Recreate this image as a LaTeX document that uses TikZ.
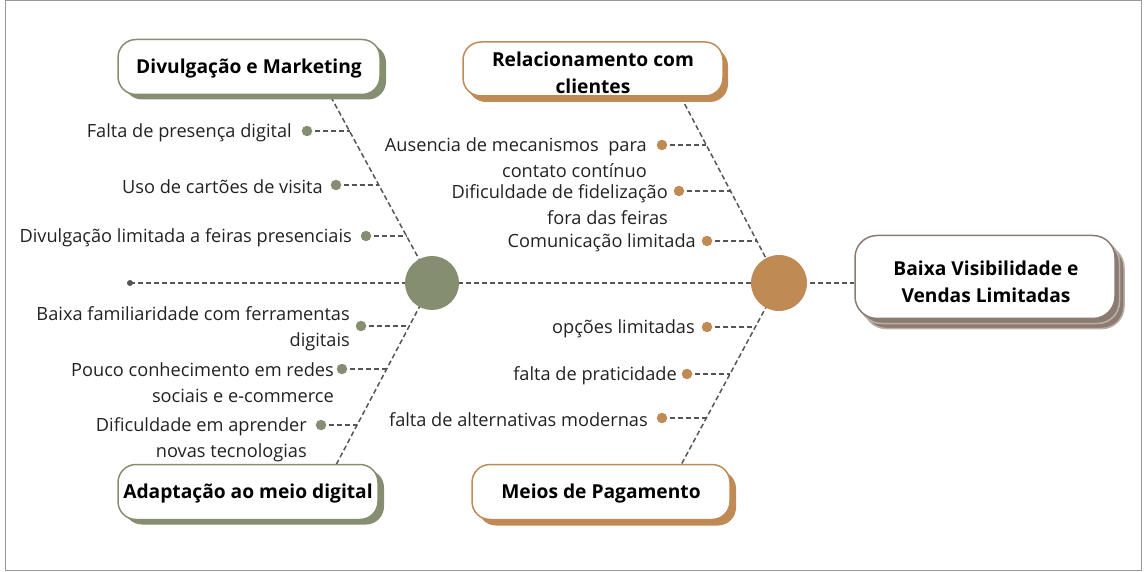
\documentclass[tikz,border=0pt]{standalone}
\usepackage{fontspec}
\setmainfont{Open Sans}
\usetikzlibrary{shadows,backgrounds}
\definecolor{sage}{HTML}{868E72}
\definecolor{ochre}{HTML}{C08A55}
\definecolor{taupe}{HTML}{8C7B70}
\definecolor{dashc}{HTML}{555555}
\definecolor{txt}{HTML}{222222}
\tikzset{
  bone/.style={draw=dashc, line width=1.5pt, dash pattern=on 5pt off 3pt},
  cause/.style={anchor=east, align=right, inner sep=0pt, text=txt, yshift=-1.5pt, font=\fontsize{18.2}{25.5}\selectfont},
  cdot/.style={circle, inner sep=0pt, minimum size=10.5pt},
  titlebox/.style={rounded corners=18pt, fill=white, line width=1.5pt, minimum height=55pt},
  titletext/.style={align=center, text=black, inner sep=0pt, font=\bfseries\fontsize{19.2}{26.5}\selectfont},
}
\begin{document}
\begin{tikzpicture}[x=1pt,y=-1pt]
\useasboundingbox (0,0) rectangle (1144,572);
\draw[draw=gray!80, line width=1pt] (5,1) rectangle (1141,570);

% title boxes
\node[titlebox, draw=sage, minimum width=262pt, drop shadow={shadow xshift=6pt, shadow yshift=-5pt, fill=sage, opacity=1}] (dm) at (249,67) {};
\node[titletext] (dmt) at (249,68.5) {Divulgação e Marketing};
\node[titlebox, draw=ochre, minimum width=260pt, minimum height=54pt, drop shadow={shadow xshift=5pt, shadow yshift=-6pt, fill=ochre, opacity=1}] (rc) at (593,69) {};
\node[titletext] (rct) at (593,73) {Relacionamento com\\clientes};
\node[titlebox, draw=sage, minimum width=260pt, drop shadow={shadow xshift=6pt, shadow yshift=-5pt, fill=sage, opacity=1}] (ad) at (248,492) {};
\node[titletext] (adt) at (248,493.5) {Adaptação ao meio digital};
\node[titlebox, draw=ochre, minimum width=258pt, drop shadow={shadow xshift=6pt, shadow yshift=-6pt, fill=ochre, opacity=1}] (mp) at (601,492) {};
\node[titletext] (mpt) at (601,493.5) {Meios de Pagamento};
\node[titlebox, draw=taupe, rounded corners=22pt, minimum width=260pt, minimum height=83pt,
  double copy shadow={shadow xshift=4.5pt, shadow yshift=-5pt, fill=taupe, draw=taupe!60!white, opacity=1}] (hd) at (985,277) {};
\node[titletext] (hdt) at (986,282) {Baixa Visibilidade e\\Vendas Limitadas};

% circles
\node[circle, fill=sage, minimum size=54pt, inner sep=0pt] (gc) at (432,283) {};
\node[circle, fill=ochre, minimum size=56pt, inner sep=0pt] (oc) at (779,283) {};
\node[circle, fill=dashc, minimum size=6pt, inner sep=0pt] (tail) at (130,283) {};

% bone attachment coordinates
\coordinate (dmE) at (331,97);
\coordinate (rcE) at (681,97);
\coordinate (adE) at (336,465);
\coordinate (mpE) at (681,465);

% causes left
\node[cause] (t1) at (292,131) {Falta de presença digital};
\node[cdot, fill=sage] (d1) at (307,131) {};
\coordinate (b1) at (349.5,131);
\node[cause] (t2) at (323,185) {Uso de cartões de visita};
\node[cdot, fill=sage] (d2) at (336,185) {};
\coordinate (b2) at (378.5,185);
\node[cause] (t3) at (352,236) {Divulgação limitada a feiras presenciais};
\node[cdot, fill=sage] (d3) at (366,236) {};
\coordinate (b3) at (406.5,236);
\node[cause] (t4) at (350,327) {Baixa familiaridade com ferramentas\\digitais};
\node[cdot, fill=sage] (d4) at (361,326) {};
\coordinate (b4) at (409.3,326);
\node[cause] (t5) at (334,381) {Pouco conhecimento em redes\\sociais e e-commerce};
\node[cdot, fill=sage] (d5) at (342,369) {};
\coordinate (b5) at (386.7,369);
\node[cause] (t6) at (307,438) {Dificuldade em aprender\\novas tecnologias};
\node[cdot, fill=sage] (d6) at (321,425) {};
\coordinate (b6) at (357.2,425);

% causes right
\node[cause] (r1) at (647,156) {Ausencia de mecanismos\ \ para\\contato contínuo};
\node[cdot, fill=ochre] (e1) at (662,145) {};
\coordinate (c1) at (706.3,145);
\node[cause] (r2) at (668,203) {Dificuldade de fidelização\\fora das feiras};
\node[cdot, fill=ochre] (e2) at (679,191) {};
\coordinate (c2) at (730.5,191);
\node[cause] (r3) at (696,241) {Comunicação limitada};
\node[cdot, fill=ochre] (e3) at (707,241) {};
\coordinate (c3) at (756.9,241);
\node[cause] (r4) at (695,327) {opções limitadas};
\node[cdot, fill=ochre] (e4) at (707,327) {};
\coordinate (c4) at (755.3,327);
\node[cause] (r5) at (677,374) {falta de praticidade};
\node[cdot, fill=ochre] (e5) at (687,374) {};
\coordinate (c5) at (730,374);
\node[cause] (r6) at (648,418) {falta de alternativas modernas};
\node[cdot, fill=ochre] (e6) at (662,418) {};
\coordinate (c6) at (706.4,418);

\begin{pgfonlayer}{background}
  \draw[bone] (tail.center) -- (tail -| hd.west);
  \draw[bone] (dmE) -- (gc.center);
  \draw[bone] (gc.center) -- (adE);
  \draw[bone] (rcE) -- (oc.center);
  \draw[bone] (oc.center) -- (mpE);
  \foreach \d/\b in {d1/b1,d2/b2,d3/b3,d4/b4,d5/b5,d6/b6,e1/c1,e2/c2,e3/c3,e4/c4,e5/c5,e6/c6}
    \draw[bone] (\d.center) -- (\b);
\end{pgfonlayer}
\end{tikzpicture}
\end{document}
